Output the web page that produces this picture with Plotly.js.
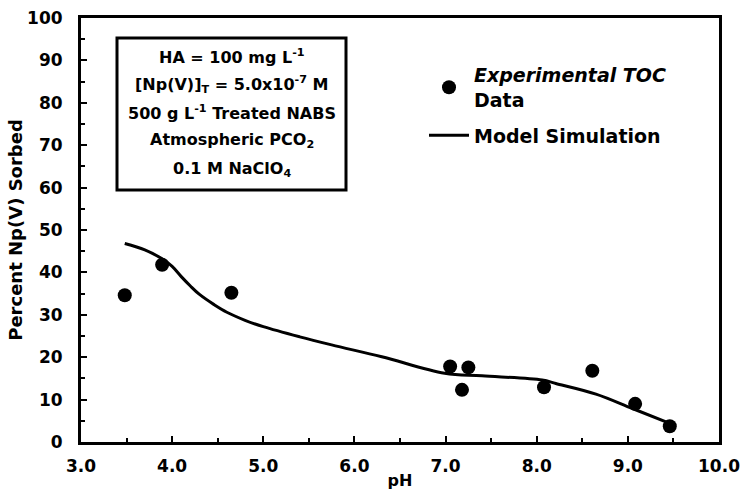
<!DOCTYPE html>
<html>
<head>
<meta charset="utf-8">
<script src="https://cdn.plot.ly/plotly-3.0.1.min.js"></script>
<style>html,body{margin:0;padding:0;background:#fff;}#chart{width:743px;height:495px;}</style>
</head>
<body>
<div id="chart"></div>
<script>
// Experimental TOC data
const expPH = [3.48, 3.89, 4.65, 7.05, 7.18, 7.25, 8.08, 8.61, 9.08, 9.46];
const expSorbed = [34.6, 41.8, 35.2, 17.8, 12.3, 17.6, 12.9, 16.8, 9.0, 3.7];
// Model simulation curve
const modelPH = [3.48, 3.7, 3.89, 4.0, 4.1, 4.2, 4.3, 4.46, 4.6, 4.8, 5.0, 5.4, 5.75, 6.3, 6.99, 7.4, 8.06, 8.21, 8.65, 9.05, 9.46];
const modelSorbed = [46.8, 45.3, 43.2, 41.4, 39.0, 36.8, 34.8, 32.4, 30.6, 28.7, 27.2, 24.8, 22.9, 20.1, 16.2, 15.6, 14.6, 13.8, 11.3, 7.9, 4.4];
// Axis ticks
const xTickVals = [3, 4, 5, 6, 7, 8, 9, 10];
const xTickText = ["3.0", "4.0", "5.0", "6.0", "7.0", "8.0", "9.0", "10.0"];
const yTickVals = [0, 10, 20, 30, 40, 50, 60, 70, 80, 90, 100];
// Condition box lines
const boxLines = [
  "HA = 100 mg L<sup>-1</sup>",
  "[Np(V)]<sub>T</sub> = 5.0x10<sup>-7</sup> M",
  "500 g L<sup>-1</sup> Treated NABS",
  "Atmospheric PCO<sub>2</sub>",
  "0.1 M NaClO<sub>4</sub>"
];

const FONT = "DejaVu Sans, Verdana, sans-serif";

const traces = [
  {
    x: expPH, y: expSorbed, mode: 'markers', type: 'scatter',
    name: '<i>Experimental TOC</i><br>Data', legendgroup: 'a',
    marker: {color: '#000', size: 14, symbol: 'circle'}
  },
  {
    x: modelPH, y: modelSorbed, mode: 'lines', type: 'scatter',
    name: 'Model Simulation', legendgroup: 'b',
    line: {color: '#000', width: 3, shape: 'spline', smoothing: 1}
  }
];

const annotations = boxLines.map((t, i) => ({
  xref: 'paper', yref: 'paper',
  x: (232 - 81) / 638, y: (442 - (56 + i * 28.3)) / 424,
  text: t, showarrow: false, xanchor: 'center', yanchor: 'middle',
  font: {family: FONT, size: 16, color: '#000', weight: 'bold'}
}));

const layout = {
  width: 743, height: 495,
  margin: {l: 81, r: 24, t: 18, b: 53},
  paper_bgcolor: '#fff', plot_bgcolor: '#fff',
  font: {family: FONT, color: '#000', weight: 'bold'},
  showlegend: true,
  legend: {
    x: (424 - 81) / 638, y: (442 - 56) / 424, xanchor: 'left', yanchor: 'top',
    bgcolor: 'rgba(0,0,0,0)', borderwidth: 0,
    font: {family: FONT, size: 19, color: '#000', weight: 'bold'},
    itemwidth: 40, tracegroupgap: 8
  },
  xaxis: {
    range: [3, 10], tickvals: xTickVals, ticktext: xTickText,
    ticks: 'inside', ticklen: 6, tickwidth: 2, tickcolor: '#000',
    minor: {dtick: 0.5, ticks: 'inside', ticklen: 4, tickwidth: 2, tickcolor: '#000'},
    showline: true, linewidth: 3, linecolor: '#000', mirror: true,
    showgrid: false, zeroline: false,
    tickfont: {family: FONT, size: 17, color: '#000', weight: 'bold'},
    ticklabelstandoff: 7,
    title: {text: 'pH', standoff: 0, font: {family: FONT, size: 16, color: '#000', weight: 'bold'}}
  },
  yaxis: {
    range: [0, 100], tickvals: yTickVals,
    ticks: 'inside', ticklen: 6, tickwidth: 2, tickcolor: '#000',
    minor: {dtick: 5, ticks: 'inside', ticklen: 4, tickwidth: 2, tickcolor: '#000'},
    showline: true, linewidth: 3, linecolor: '#000', mirror: true,
    showgrid: false, zeroline: false,
    tickfont: {family: FONT, size: 17, color: '#000', weight: 'bold'},
    ticklabelstandoff: 12,
    title: {text: 'Percent Np(V) Sorbed', standoff: 0, font: {family: FONT, size: 18, color: '#000', weight: 'bold'}}
  },
  shapes: [{
    type: 'rect', xref: 'paper', yref: 'paper',
    x0: (117 - 81) / 638, x1: (346 - 81) / 638,
    y0: (442 - 190) / 424, y1: (442 - 38) / 424,
    line: {color: '#000', width: 3}, fillcolor: '#fff', layer: 'above'
  }],
  annotations: annotations
};

Plotly.newPlot('chart', traces, layout, {displayModeBar: false, staticPlot: true});
</script>
</body>
</html>
